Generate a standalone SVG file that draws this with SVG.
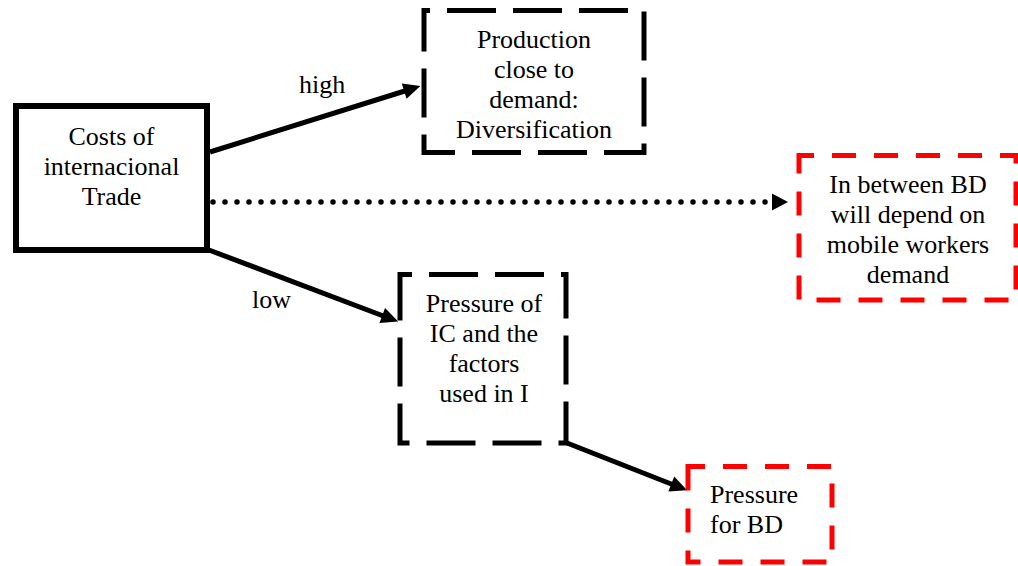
<svg xmlns="http://www.w3.org/2000/svg" width="1018" height="566" viewBox="0 0 1018 566">
<style>
text{font-family:"Liberation Serif","Times New Roman",serif;font-size:26px;fill:#000}
.c{text-anchor:middle}
.solid{fill:#fff;stroke:#000;stroke-width:6}
.bdash{fill:none;stroke:#000;stroke-width:5;stroke-dasharray:49 17}
.rdash{fill:none;stroke:#f00;stroke-width:5;stroke-dasharray:24 18}
.arr{stroke:#000;stroke-width:5;fill:none;marker-end:url(#ah)}
.dot{stroke:#000;stroke-width:5.5;fill:none;stroke-linecap:round;stroke-dasharray:0 12;marker-end:url(#dh)}
</style>
<defs>
<marker id="ah" markerUnits="userSpaceOnUse" markerWidth="20" markerHeight="16" refX="4" refY="8" orient="auto" overflow="visible">
<path d="M0,0 L17,8 L0,16 z" fill="#000"/>
</marker>
<marker id="dh" markerUnits="userSpaceOnUse" markerWidth="20" markerHeight="18" refX="16" refY="8.5" orient="auto" overflow="visible">
<path d="M0,0 L16,8.5 L0,17 z" fill="#000"/>
</marker>
</defs>
<rect width="1018" height="566" fill="#fff"/>
<g id="connectors">
<line class="arr" x1="210" y1="152" x2="408" y2="90"/>
<text x="299" y="93">high</text>
<line class="dot" x1="213" y1="202" x2="788" y2="202"/>
<line class="arr" x1="209" y1="250" x2="386" y2="317"/>
<text x="252" y="308">low</text>
<line class="arr" x1="567" y1="443" x2="675" y2="485.5"/>
</g>
<g id="costs">
<rect class="solid" x="16" y="106" width="191" height="144"/>
<text class="c" x="111.5" y="145">Costs of</text>
<text class="c" x="111.5" y="175">internacional</text>
<text class="c" x="111.5" y="205">Trade</text>
</g>
<g id="production">
<rect class="bdash" x="424" y="10.5" width="220" height="142" stroke-dashoffset="43"/>
<text class="c" x="534" y="48">Production</text>
<text class="c" x="534" y="78">close to</text>
<text class="c" x="534" y="108">demand:</text>
<text class="c" x="534" y="138">Diversification</text>
</g>
<g id="inbetween">
<rect class="rdash" x="799" y="155.5" width="217" height="144.5" stroke-dashoffset="9"/>
<text class="c" x="908" y="193">In between BD</text>
<text class="c" x="908" y="223">will depend on</text>
<text class="c" x="908" y="253">mobile workers</text>
<text class="c" x="908" y="283">demand</text>
</g>
<g id="pressureic">
<rect class="bdash" x="400" y="274.5" width="166" height="168.5" stroke-dashoffset="37"/>
<text class="c" x="484" y="312">Pressure of</text>
<text class="c" x="484" y="342">IC and the</text>
<text class="c" x="484" y="372">factors</text>
<text class="c" x="484" y="402">used in I</text>
</g>
<g id="pressurebd">
<rect class="rdash" x="688" y="466.5" width="144" height="95.5" stroke-dashoffset="7"/>
<text x="710" y="503">Pressure</text>
<text x="710" y="533">for BD</text>
</g>
</svg>
